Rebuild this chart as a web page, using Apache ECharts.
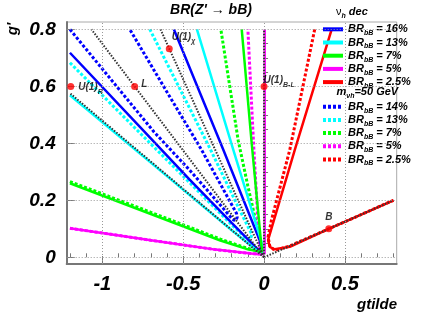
<!DOCTYPE html>
<html><head><meta charset="utf-8">
<script src="https://cdn.jsdelivr.net/npm/echarts@6/dist/echarts.min.js"></script>
<style>html,body{margin:0;padding:0;background:#fff}#c{width:441px;height:331px}</style>
</head><body><div id="c"></div>
<script>
const FONT = "'Liberation Sans', Arial, Helvetica, sans-serif";

// axis ticks
const xMajorTicks = [-1, -0.5, 0, 0.5];
const xMinorTicks = [-1.2, -1.1, -0.9, -0.8, -0.7, -0.6, -0.4, -0.3, -0.2, -0.1, 0.1, 0.2, 0.3, 0.4, 0.6, 0.7, 0.8];
const yMajorTicks = [0, 0.2, 0.4, 0.6, 0.8];
const yMinorTicks = [0.05, 0.1, 0.15, 0.25, 0.3, 0.35, 0.45, 0.5, 0.55, 0.65, 0.7, 0.75];

// legend labels
const solidLabels = ['16%', '13%', '7%', '5%', '2.5%'];
const dottedLabels = ['14%', '13%', '7%', '5%', '2.5%'];
const lineColors = ['#0000ff', '#00ffff', '#00ff00', '#ff00ff', '#ff0000'];

// nu_h dec contours (solid), points [gtilde, g']
const decBR16 = [[-1.2,0.718],[-0.68,0.405],[-0.46,0.273],[-0.2,0.121],[-0.05,0.034],[-0.008,0.015],[-0.027,0.06],[-0.25,0.375],[-0.557,0.8]];
const decBR13 = [[-1.2,0.569],[-0.6,0.285],[-0.2,0.095],[-0.04,0.022],[-0.004,0.012],[-0.016,0.055],[-0.19,0.377],[-0.415,0.8]];
const decBR7  = [[-1.2,0.26],[-0.7,0.152],[-0.27,0.059],[-0.1,0.028],[-0.03,0.02],[-0.012,0.02],[-0.02,0.06],[-0.078,0.41],[-0.138,0.8]];
const decBR5  = [[-1.2,0.102],[-0.7,0.06],[-0.3,0.027],[-0.08,0.013],[-0.02,0.01],[0.003,0.012],[0.004,0.05],[0.004,0.8]];
const decBR25 = [[0.418,0.8],[0.19,0.377],[0.025,0.061],[0.035,0.037],[0.066,0.028],[0.159,0.037],[0.4,0.1],[0.8,0.2]];

// m_nuh = 50 GeV contours (dotted)
const m50BR14 = [[-1.2,0.8],[-0.68,0.44],[-0.46,0.306],[-0.25,0.17],[-0.195,0.134],[-0.178,0.128],[-0.166,0.14],[-0.17,0.154],[-0.386,0.377],[-0.6,0.58],[-0.83,0.8]];
const m50BR13 = [[-1.2,0.683],[-0.7,0.398],[-0.46,0.262],[-0.2,0.114],[-0.11,0.066],[-0.085,0.062],[-0.075,0.08],[-0.15,0.165],[-0.33,0.377],[-0.706,0.8]];
const m50BR7  = [[-1.2,0.266],[-0.7,0.158],[-0.27,0.064],[-0.1,0.031],[-0.03,0.023],[-0.012,0.025],[-0.04,0.1],[-0.1,0.25],[-0.16,0.411],[-0.267,0.8]];
const m50BR5  = [[-1.2,0.102],[-0.7,0.06],[-0.3,0.027],[-0.08,0.013],[-0.035,0.012],[-0.025,0.03],[-0.035,0.1],[-0.065,0.4],[-0.1,0.8]];
const m50BR25 = [[0.313,0.8],[0.159,0.377],[0.046,0.131],[0.025,0.072],[0.035,0.04],[0.066,0.024],[0.16,0.04],[0.4,0.1],[0.8,0.2]];

// model lines (black dotted rays)
const rayR   = [[0,0],[-1.2,0.576]];
const rayL   = [[0,0],[-1.067,0.8]];
const rayChi = [[0,0],[-0.64,0.8]];
const rayBL  = [[0,0],[0,0.8]];
const rayB   = [[0,0],[0.8,0.2]];

// model benchmark points
const modelLabels = ['{m|U(1)}{s|R}', '{m|L}', '{m|U(1)}{s|χ}', '{m|U(1)}{s|B-L}', '{m|B}'];
const modelX = [-1.195, -0.8, -0.586, 0, 0.4];
const modelY = [0.6, 0.6, 0.732, 0.6, 0.1];

const solidData = [decBR16, decBR13, decBR7, decBR5, decBR25];
const dottedData = [m50BR14, m50BR13, m50BR7, m50BR5, m50BR25];
const rays = [rayR, rayL, rayChi, rayBL, rayB];

const bi = {fontFamily: FONT, fontWeight: 'bold', fontStyle: 'italic', color: '#000'};
const richLeg = {
  b: Object.assign({fontSize: 11, lineHeight: 11}, bi),
  s: Object.assign({fontSize: 7, lineHeight: 1, verticalAlign: 'top', padding: [6, 0, 0, 0]}, bi),
  t: Object.assign({fontSize: 11, lineHeight: 11}, bi)
};
const richMark = {
  m: Object.assign({fontSize: 10, lineHeight: 12}, bi),
  s: Object.assign({fontSize: 7, lineHeight: 1, verticalAlign: 'top', padding: [7, 0, 0, 0]}, bi)
};
const labelPlace = [
  {position: 'right', distance: 4, offset: [0, 1]},
  {position: 'right', distance: 3, offset: [0, -2]},
  {position: 'right', distance: 0, offset: [-1, -12]},
  {position: 'right', distance: 0, offset: [-4, -6]},
  {position: 'top', distance: 2, offset: [0, 0]}
];

const series = [];
series.push({
  type: 'line', name: 'grid', data: [[0, 0]], symbol: 'none', lineStyle: {opacity: 0}, z: 1, silent: true,
  markLine: {
    silent: true, symbol: ['none', 'none'], label: {show: false}, animation: false,
    lineStyle: {color: '#999', type: [1, 2], width: 1},
    data: xMajorTicks.map(v => ({xAxis: v})).concat(yMajorTicks.map(v => ({yAxis: v})))
  }
});
dottedData.forEach((d, i) => series.push({
  type: 'line', name: 'm50:' + dottedLabels[i], data: d, symbol: 'none', showSymbol: false, z: 2,
  lineStyle: {color: lineColors[i], width: 3, type: [3, 2]}, itemStyle: {color: lineColors[i]}
}));
solidData.forEach((d, i) => series.push({
  type: 'line', name: 'dec:' + solidLabels[i], data: d, symbol: 'none', showSymbol: false, z: 3,
  lineStyle: {color: lineColors[i], width: 2.5}, itemStyle: {color: lineColors[i]}
}));
rays.forEach((d, i) => series.push({
  type: 'line', name: 'ray' + i, data: d, symbol: 'none', showSymbol: false, z: 4,
  lineStyle: {color: '#333', width: 2, type: [1.5, 1.5]}
}));
series.push({
  type: 'scatter', name: 'models', symbol: 'circle', symbolSize: 7, z: 6,
  itemStyle: {color: '#ff0000'},
  data: modelX.map((x, i) => ({
    value: [x, modelY[i]],
    label: Object.assign({show: true, formatter: modelLabels[i], rich: richMark}, labelPlace[i])
  }))
});

const legFmt = name => '{b|BR}{s|bB}{t| = ' + name.split(':')[1] + '}';
const legendBase = {
  orient: 'vertical', left: 321, itemWidth: 20, itemHeight: 11, itemGap: 0.2, padding: 0,
  selectedMode: false, formatter: legFmt,
  textStyle: Object.assign({fontSize: 11, rich: richLeg}, bi),
  lineStyle: {width: 4},
  itemStyle: {color: 'rgba(0,0,0,0)', borderWidth: 0, opacity: 0}
};

const axisLabelStyle = Object.assign({fontSize: 19}, bi);
const chart = echarts.init(document.getElementById('c'), null, {renderer: 'canvas'});
chart.setOption({
  animation: false,
  backgroundColor: '#fff',
  grid: {left: 66.7, top: 22, right: 44.3, bottom: 67, show: true, borderColor: '#aaa', borderWidth: 1, containLabel: false, outerBoundsMode: 'none'},
  xAxis: [
    {type: 'value', min: -1.22, max: 0.82, position: 'bottom',
     axisLine: {show: true, onZero: false, lineStyle: {color: '#777', width: 2}},
     axisTick: {show: true, inside: true, length: 8, customValues: xMajorTicks, lineStyle: {color: '#777'}},
     axisLabel: Object.assign({customValues: xMajorTicks, margin: 10, fontSize: 20}, bi),
     splitLine: {show: false}},
    {type: 'value', min: -1.22, max: 0.82, position: 'bottom', offset: 0,
     axisLine: {show: false}, axisLabel: {show: false}, splitLine: {show: false},
     axisTick: {show: true, inside: true, length: 4, customValues: xMinorTicks, lineStyle: {color: '#777'}}}
  ],
  yAxis: [
    {type: 'value', min: -0.0235, max: 0.826, position: 'left',
     axisLine: {show: true, onZero: false, lineStyle: {color: '#777', width: 2}},
     axisTick: {show: true, inside: true, length: 8, customValues: yMajorTicks, lineStyle: {color: '#777'}},
     axisLabel: Object.assign({customValues: yMajorTicks, margin: 11}, axisLabelStyle),
     splitLine: {show: false}},
    {type: 'value', min: -0.0235, max: 0.826, position: 'left', offset: 0,
     axisLine: {show: false}, axisLabel: {show: false}, splitLine: {show: false},
     axisTick: {show: true, inside: true, length: 4, customValues: yMinorTicks, lineStyle: {color: '#777'}}}
  ],
  legend: [
    Object.assign({top: 23.8, data: solidLabels.map(l => 'dec:' + l)}, legendBase),
    Object.assign({top: 101.2, data: dottedLabels.map(l => 'm50:' + l)}, legendBase)
  ],
  graphic: [
    {type: 'text', x: 211, y: 10, z: 10, style: {text: "BR(Z' → bB)", align: 'center', verticalAlign: 'middle', fill: '#000', font: "italic bold 14px " + FONT}},
    {type: 'text', x: 336, y: 12, z: 10, style: {text: '{n|ν}{s|h}{t| dec}', align: 'left', verticalAlign: 'middle',
      rich: {n: {fontSize: 11, fontFamily: FONT, fill: '#000', lineHeight: 12}, s: Object.assign({fontSize: 7, lineHeight: 1, verticalAlign: 'top', padding: [7, 0, 0, 0], fill: '#000'}, bi), t: Object.assign({fontSize: 11, lineHeight: 12, fill: '#000'}, bi)}}},
    {type: 'text', x: 336.5, y: 91.7, z: 10, style: {text: '{t|m}{s|νh}{t|=50 GeV}', align: 'left', verticalAlign: 'middle',
      rich: {s: Object.assign({fontSize: 7, lineHeight: 1, verticalAlign: 'top', padding: [7, 0, 0, 0], fill: '#000'}, bi), t: Object.assign({fontSize: 11, lineHeight: 12, fill: '#000'}, bi)}}},
    {type: 'text', x: 397, y: 305, z: 10, style: {text: 'gtilde', align: 'right', verticalAlign: 'middle', fill: '#000', font: "italic bold 15px " + FONT}},
    {type: 'text', x: 13, y: 29, z: 10, rotation: Math.PI / 2, style: {text: "g'", align: 'center', verticalAlign: 'middle', fill: '#000', font: "italic bold 15px " + FONT}}
  ],
  series: series
});
</script></body></html>
